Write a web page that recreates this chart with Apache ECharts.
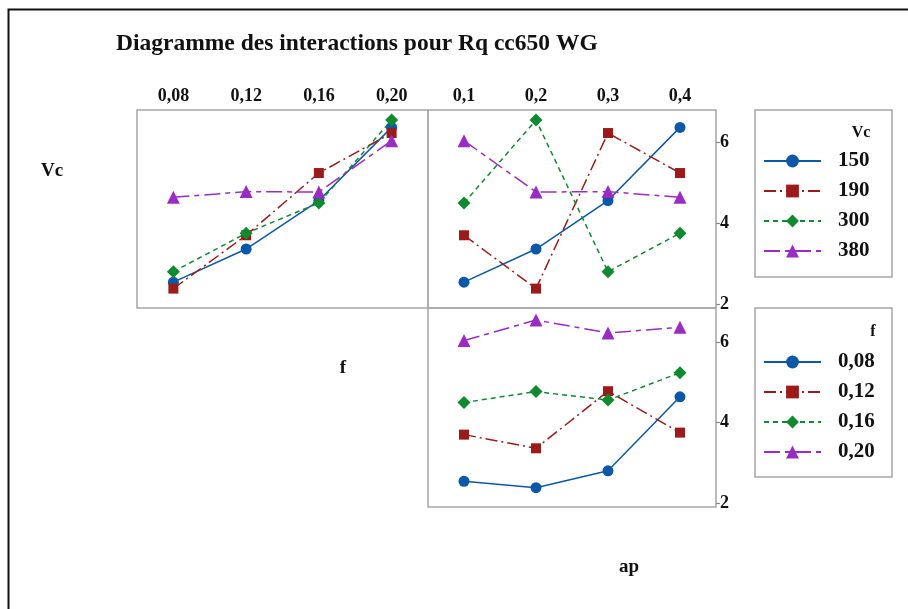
<!DOCTYPE html>
<html>
<head>
<meta charset="utf-8">
<script src="https://cdn.jsdelivr.net/npm/echarts@6/dist/echarts.min.js"></script>
<style>
  html, body { margin: 0; padding: 0; background: #fff; }
  #chart { width: 908px; height: 609px; }
</style>
</head>
<body>
<div id="chart"></div>
<script>
// Factor levels
const fLevels = ['0,08', '0,12', '0,16', '0,20'];
const apLevels = ['0,1', '0,2', '0,3', '0,4'];
const vcLevels = ['150', '190', '300', '380'];
const yTicks = [2, 4, 6];

// Mean Rq by f, one line per Vc
const vcByF_150 = [2.54, 3.36, 4.56, 6.37];
const vcByF_190 = [2.38, 3.70, 5.24, 6.23];
const vcByF_300 = [2.80, 3.75, 4.50, 6.55];
const vcByF_380 = [4.64, 4.78, 4.77, 6.04];

// Mean Rq by ap, one line per Vc
const vcByAp_150 = [2.54, 3.36, 4.56, 6.37];
const vcByAp_190 = [3.70, 2.38, 6.23, 5.24];
const vcByAp_300 = [4.50, 6.55, 2.80, 3.75];
const vcByAp_380 = [6.04, 4.77, 4.78, 4.64];

// Mean Rq by ap, one line per f
const fByAp_008 = [2.54, 2.38, 2.80, 4.64];
const fByAp_012 = [3.70, 3.36, 4.78, 3.75];
const fByAp_016 = [4.50, 4.77, 4.56, 5.24];
const fByAp_020 = [6.04, 6.55, 6.23, 6.37];

const SERIF = '"Liberation Serif", "Times New Roman", serif';
const COLORS = ['#0b58a8', '#9c1a1a', '#0f8a2e', '#9a2cc6'];
const SYMBOLS = ['circle', 'rect', 'diamond', 'triangle'];
const SIZES = [11, 10, 13, 13];
const DASHES = ['solid', [12, 4, 2, 4], [5, 4], [16, 5, 5, 5]];
const BORDER = '#a6a6a6';

function lineSeries(name, data, idx, axis) {
  return {
    type: 'line',
    name: name,
    data: data,
    xAxisIndex: axis,
    yAxisIndex: axis,
    symbol: SYMBOLS[idx],
    symbolSize: SIZES[idx],
    showAllSymbol: true,
    itemStyle: { color: COLORS[idx] },
    lineStyle: { color: COLORS[idx], width: 1.5, type: DASHES[idx] },
    emphasis: { disabled: true },
    animation: false
  };
}

const vcByF = [vcByF_150, vcByF_190, vcByF_300, vcByF_380];
const vcByAp = [vcByAp_150, vcByAp_190, vcByAp_300, vcByAp_380];
const fByAp = [fByAp_008, fByAp_012, fByAp_016, fByAp_020];

const series = [];
vcLevels.forEach((n, i) => series.push(lineSeries(n, vcByF[i], i, 0)));
vcLevels.forEach((n, i) => series.push(lineSeries(n, vcByAp[i], i, 1)));
fLevels.forEach((n, i) => series.push(lineSeries(n, fByAp[i], i, 2)));

const tickLabelStyle = { fontFamily: SERIF, fontWeight: 'bold', fontSize: 18, color: '#111' };

function xAxis(cats, grid, showLabels) {
  return {
    type: 'category',
    gridIndex: grid,
    data: cats,
    position: 'top',
    boundaryGap: true,
    axisLine: { show: false },
    axisTick: { show: false },
    axisLabel: Object.assign({ show: showLabels, margin: 5 }, tickLabelStyle),
    splitLine: { show: false }
  };
}

function yAxis(grid, min, max, showLabels) {
  return {
    type: 'value',
    gridIndex: grid,
    min: min,
    max: max,
    position: 'right',
    axisLine: { show: false },
    axisTick: { show: showLabels, length: 4, lineStyle: { color: '#888', width: 1.2 }, customValues: yTicks },
    axisLabel: Object.assign({ show: showLabels, margin: 4, customValues: yTicks }, tickLabelStyle),
    splitLine: { show: false }
  };
}

const legendText = { fontFamily: SERIF, fontWeight: 'bold', fontSize: 21, color: '#111', lineHeight: 24, padding: [0, 0, 0, 12] };

const option = {
  backgroundColor: '#fff',
  animation: false,
  title: {
    text: 'Diagramme des interactions pour Rq cc650 WG',
    left: 116, top: 32, padding: 0,
    textStyle: { fontFamily: SERIF, fontWeight: 'bold', fontSize: 23.5, color: '#111' }
  },
  grid: [
    { left: 137, top: 110, width: 291, height: 198, show: true, borderColor: BORDER, borderWidth: 1.5, backgroundColor: 'transparent' },
    { left: 428, top: 110, width: 288, height: 198, show: true, borderColor: BORDER, borderWidth: 1.5, backgroundColor: 'transparent' },
    { left: 428, top: 308, width: 288, height: 199, show: true, borderColor: BORDER, borderWidth: 1.5, backgroundColor: 'transparent' }
  ],
  xAxis: [
    xAxis(fLevels, 0, true),
    xAxis(apLevels, 1, true),
    xAxis(apLevels, 2, false)
  ],
  yAxis: [
    yAxis(0, 1.9, 6.8, false),
    yAxis(1, 1.9, 6.8, true),
    yAxis(2, 1.9, 6.85, true)
  ],
  legend: [
    {
      data: vcLevels, orient: 'vertical', left: 763, top: 149, padding: 0,
      itemWidth: 57, itemHeight: 16, itemGap: 6, selectedMode: false,
      textStyle: legendText
    },
    {
      data: fLevels, orient: 'vertical', left: 763, top: 350, padding: 0,
      itemWidth: 57, itemHeight: 16, itemGap: 6, selectedMode: false,
      textStyle: legendText
    }
  ],
  graphic: [
    // outer frame (left and top edges visible)
    { type: 'rect', shape: { x: 8.5, y: 9.5, width: 1000, height: 1000 }, style: { fill: 'none', stroke: '#111', lineWidth: 2 }, silent: true },
    // legend boxes
    { type: 'rect', shape: { x: 755, y: 110, width: 137, height: 167 }, style: { fill: 'none', stroke: BORDER, lineWidth: 1.5 }, silent: true },
    { type: 'rect', shape: { x: 755, y: 308, width: 137, height: 169 }, style: { fill: 'none', stroke: BORDER, lineWidth: 1.5 }, silent: true },
    // legend titles
    { type: 'text', x: 861, y: 133, style: { text: 'Vc', fontFamily: SERIF, fontWeight: 'bold', fontSize: 16, fill: '#111', align: 'center', verticalAlign: 'middle' }, silent: true },
    { type: 'text', x: 873, y: 332, style: { text: 'f', fontFamily: SERIF, fontWeight: 'bold', fontSize: 16, fill: '#111', align: 'center', verticalAlign: 'middle' }, silent: true },
    // factor labels on the diagonal
    { type: 'text', x: 52, y: 171, style: { text: 'Vc', fontFamily: SERIF, fontWeight: 'bold', fontSize: 19, fill: '#111', align: 'center', verticalAlign: 'middle' }, silent: true },
    { type: 'text', x: 343, y: 368, style: { text: 'f', fontFamily: SERIF, fontWeight: 'bold', fontSize: 19, fill: '#111', align: 'center', verticalAlign: 'middle' }, silent: true },
    { type: 'text', x: 629, y: 567, style: { text: 'ap', fontFamily: SERIF, fontWeight: 'bold', fontSize: 19, fill: '#111', align: 'center', verticalAlign: 'middle' }, silent: true }
  ],
  series: series
};

const chart = echarts.init(document.getElementById('chart'), null, { renderer: 'canvas' });
chart.setOption(option);
</script>
</body>
</html>
